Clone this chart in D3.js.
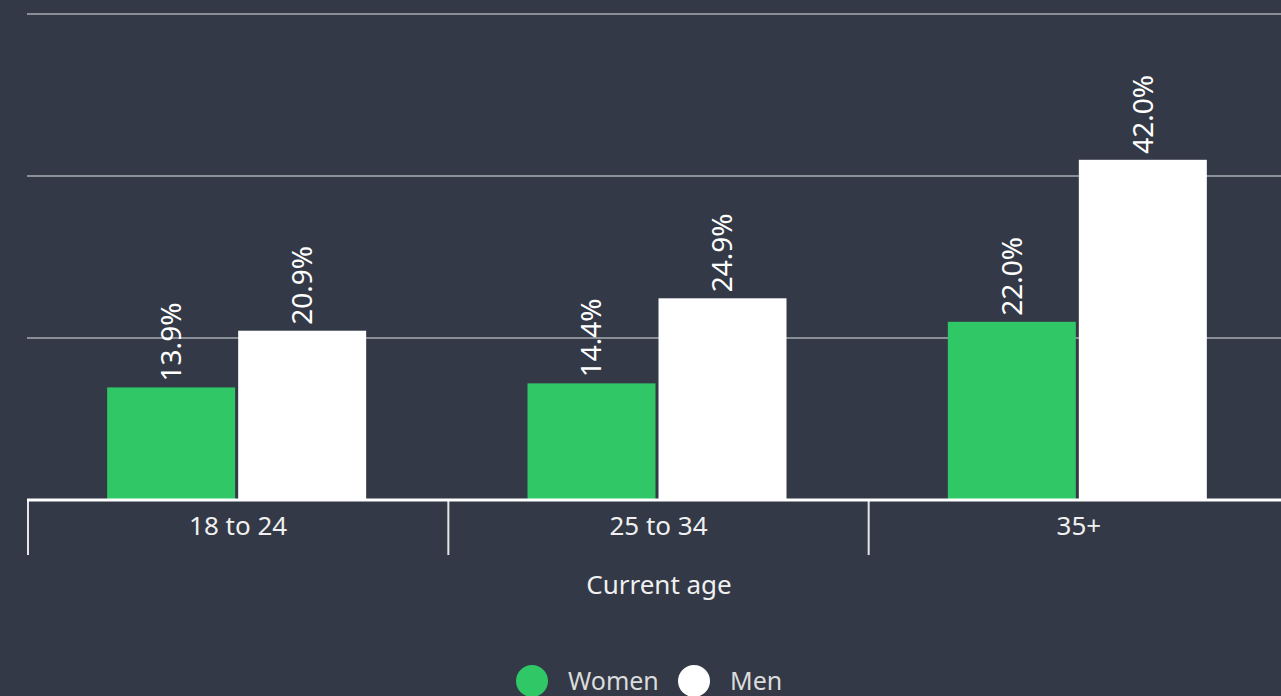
<!DOCTYPE html>
<html>
<head>
<meta charset="utf-8">
<script src="https://cdn.jsdelivr.net/npm/d3@7"></script>
<style>
  html, body { margin: 0; padding: 0; background: #333946; overflow: hidden; }
  svg { display: block; font-family: "Noto Sans", sans-serif; }
</style>
</head>
<body>
<div id="chart"></div>
<script>
// age groups on the x axis
const categories = ["18 to 24", "25 to 34", "35+"];
const series = ["Women", "Men"];
// percent values per age group
const women = [13.9, 14.4, 22.0];
const men = [20.9, 24.9, 42.0];
const gridTicks = [20, 40, 60];
const colors = ["#30c866", "#ffffff"];

const width = 1281, height = 696;
const baseY = 500;

const svg = d3.select("#chart").append("svg")
  .attr("width", width)
  .attr("height", height);

svg.append("rect").attr("width", width).attr("height", height).attr("fill", "#333946");

// scales
const x = d3.scaleBand()
  .domain(categories)
  .range([28, 1289])
  .paddingInner(0)
  .paddingOuter(0);

const bw = x.bandwidth();
const xSub = d3.scaleBand()
  .domain(series)
  .range([bw / 2 - 131, bw / 2 + 128])
  .paddingInner(0.023);

const y = d3.scaleLinear()
  .domain([0, 60])
  .range([baseY, 14]);

// gridlines
svg.append("g")
  .selectAll("line")
  .data(gridTicks)
  .enter().append("line")
  .attr("x1", 27)
  .attr("x2", width)
  .attr("y1", d => y(d))
  .attr("y2", d => y(d))
  .attr("stroke", "#8a8f97")
  .attr("stroke-width", 2);

// bars
const rows = categories.map((c, i) => ({cat: c, values: [women[i], men[i]]}));

const groups = svg.append("g")
  .selectAll("g")
  .data(rows)
  .enter().append("g")
  .attr("transform", d => "translate(" + x(d.cat) + ",0)");

groups.selectAll("rect")
  .data(d => d.values.map((v, j) => ({key: series[j], value: v, idx: j})))
  .enter().append("rect")
  .attr("x", d => xSub(d.key))
  .attr("y", d => y(d.value))
  .attr("width", xSub.bandwidth())
  .attr("height", d => baseY - y(d.value))
  .attr("fill", d => colors[d.idx]);

// value labels, rotated
groups.selectAll("text")
  .data(d => d.values.map((v, j) => ({key: series[j], value: v})))
  .enter().append("text")
  .attr("transform", d => "translate(" + (xSub(d.key) + xSub.bandwidth() / 2) + "," + (y(d.value) - 6) + ") rotate(-90)")
  .attr("dy", "0.35em")
  .attr("text-anchor", "start")
  .attr("fill", "#ffffff")
  .style("font-size", "28px")
  .text(d => d.value.toFixed(1) + "%");

// x axis
const xAxis = svg.append("g")
  .attr("transform", "translate(0," + baseY + ")")
  .call(d3.axisBottom(x).tickSize(0).tickPadding(17));
xAxis.select(".domain").remove();
xAxis.selectAll("text")
  .attr("fill", "#f0f0f0")
  .style("font-size", "26px")
  .style("font-family", "'Noto Sans', sans-serif");

// band boundary ticks
svg.append("g")
  .selectAll("line")
  .data(categories)
  .enter().append("line")
  .attr("x1", d => x(d))
  .attr("x2", d => x(d))
  .attr("y1", baseY)
  .attr("y2", 555)
  .attr("stroke", "#e6e6e6")
  .attr("stroke-width", 2);

svg.append("line")
  .attr("x1", 27)
  .attr("x2", width)
  .attr("y1", baseY)
  .attr("y2", baseY)
  .attr("stroke", "#ffffff")
  .attr("stroke-width", 3);

// axis title
svg.append("text")
  .attr("x", 659)
  .attr("y", 585)
  .attr("dy", "0.35em")
  .attr("text-anchor", "middle")
  .attr("fill", "#f0f0f0")
  .style("font-size", "26px")
  .text("Current age");

// legend
const legendX = [532, 694];
const legend = svg.append("g")
  .selectAll("g")
  .data(series)
  .enter().append("g")
  .attr("transform", (d, i) => "translate(" + legendX[i] + ",681)");

legend.append("circle")
  .attr("r", 16)
  .attr("fill", (d, i) => colors[i]);

legend.append("text")
  .attr("x", 36)
  .attr("dy", "0.35em")
  .attr("fill", "#dcdcdc")
  .style("font-size", "25px")
  .text(d => d);
</script>
</body>
</html>
